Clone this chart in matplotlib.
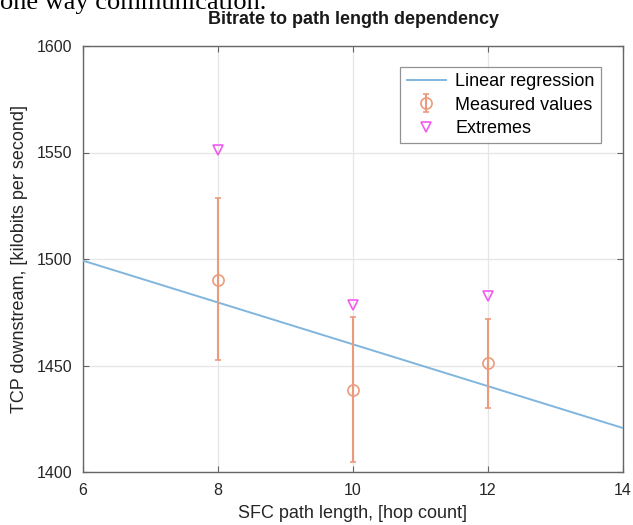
import numpy as np
import matplotlib.pyplot as plt

# data
hops = [8, 10, 12]
measured = [1490.3, 1438.5, 1451.0]
err_low = [1452.5, 1404.6, 1430.2]
err_high = [1528.5, 1472.8, 1471.8]
extremes = [1551.3, 1478.2, 1482.4]
x_ticks = [6, 8, 10, 12, 14]
y_ticks = [1400, 1450, 1500, 1550, 1600]

plt.rcParams['font.family'] = ['Liberation Sans', 'DejaVu Sans']

fig = plt.figure(figsize=(6.33, 5.25), dpi=100)
ax = fig.add_axes([83 / 633, 1 - 472 / 525, 540 / 633, 426 / 525])

# regression fitted on the measured means
slope, icpt = np.polyfit(hops, measured, 1)
xr = np.array([6, 14])
reg, = ax.plot(xr, slope * xr + icpt, color='#80b6de', lw=1.4, label='Linear regression', zorder=3)

yerr = [np.array(measured) - np.array(err_low), np.array(err_high) - np.array(measured)]
meas = ax.errorbar(hops, measured, yerr=yerr, fmt='o', color='#ec9a7c', mfc='none', ms=8,
                   mew=1.2, elinewidth=1.5, capsize=2.5, capthick=1.2,
                   label='Measured values', zorder=4)
ext, = ax.plot(hops, extremes, 'v', color='#f05cf0', mfc='none', ms=7, mew=1.2,
               label='Extremes', zorder=4)

ax.set_xlim(6, 14)
ax.set_ylim(1400, 1600)
ax.set_xticks(x_ticks)
ax.set_yticks(y_ticks)
ax.grid(True, color='#e6e6e6', lw=0.9)
ax.set_axisbelow(True)
ax.tick_params(direction='in', top=True, right=True, length=4, width=0.8,
               colors='#666666', labelcolor='#262626', labelsize=11.5, pad=8)
for s in ax.spines.values():
    s.set_color('#666666')
    s.set_linewidth(1.0)

ax.set_xlabel('SFC path length, [hop count]', fontsize=13, color='#262626', labelpad=5)
ax.set_ylabel('TCP downstream, [kilobits per second]', fontsize=13, color='#262626', labelpad=6)
ax.set_title('Bitrate to path length dependency', fontsize=13, fontweight='bold',
             color='#1a1a1a', pad=16)

leg = ax.legend([reg, meas, ext], ['Linear regression', 'Measured values', 'Extremes'],
                loc='upper right', fontsize=13, frameon=True, fancybox=False,
                borderpad=0.35, labelspacing=0.35, handlelength=2.2, handletextpad=0.5,
                bbox_to_anchor=(0.976, 0.972))
leg.get_frame().set_edgecolor('#777777')
leg.get_frame().set_linewidth(0.9)

# clipped caption line from the page above the figure
fig.text(0.0, 1 - 9 / 525, 'one way communication.', family='Liberation Serif',
         fontsize=19, va='baseline', ha='left')

fig.savefig('out.png', dpi=100)
